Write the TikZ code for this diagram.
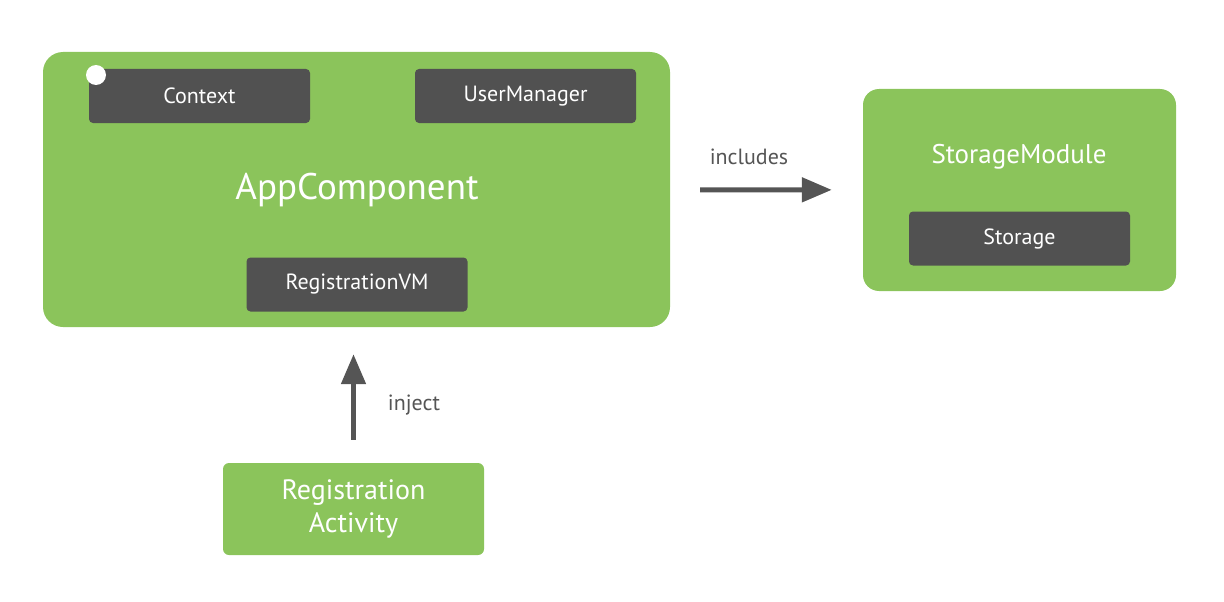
\documentclass[tikz,border=0pt]{standalone}
\usepackage{fontspec}
\setmainfont{PT Sans}
\usepackage{tikz}
\usetikzlibrary{arrows.meta, calc}

\definecolor{compgreen}{HTML}{8BC45B}
\definecolor{boxgray}{HTML}{515151}
\definecolor{arrgray}{HTML}{555555}

\begin{document}
\begin{tikzpicture}[x=1pt,y=-1pt,
  comp/.style={fill=compgreen,rounded corners=20pt,inner sep=0pt,text=white},
  dep/.style={fill=boxgray,rounded corners=4pt,inner sep=0pt,text=white,
    minimum width=221pt,minimum height=54pt,font=\fontsize{22}{26}\selectfont},
  arr/.style={draw=arrgray,line width=5pt,-{Triangle[length=30pt,width=24pt]}},
  lbl/.style={text=arrgray,font=\fontsize{22}{26}\selectfont}]
\useasboundingbox (0,0) rectangle (1224,602);

% components
\node[comp,minimum width=627pt,minimum height=275pt] (app) at (356.5,189.5) {};
\node[text=white,font=\fontsize{37}{40}\selectfont] (appname) at (357,190) {AppComponent};
\node[comp,minimum width=313pt,minimum height=202pt,rounded corners=16pt] (store) at (1019.5,190) {};
\node[text=white,font=\fontsize{27}{30}\selectfont] (storename) at (1019,157) {StorageModule};
\node[comp,minimum width=261pt,minimum height=92pt,rounded corners=6pt,align=center,
  font=\fontsize{28}{33}\selectfont] (act) at (353.5,509) {Registration\\Activity};

% dependencies
\node[dep] (ctx) at (199.5,96) {Context};
\node[dep] (user) at (525.5,96) {UserManager};
\node[dep] (regvm) at (357,284.5) {RegistrationVM};
\node[dep] (storage) at (1019.5,238.5) {Storage};
\fill[white] (96,75) circle (10pt);

% arrows
\draw[arr,shorten <=30pt,shorten >=31pt] (app) -- (store);
\node[lbl] (inc) at (749,157) {includes};
\draw[arr,shorten <=23pt,shorten >=27pt] (act.north) -- (act.north |- app.south);
\node[lbl] (inj) at (414,405) {inject};
\end{tikzpicture}
\end{document}
